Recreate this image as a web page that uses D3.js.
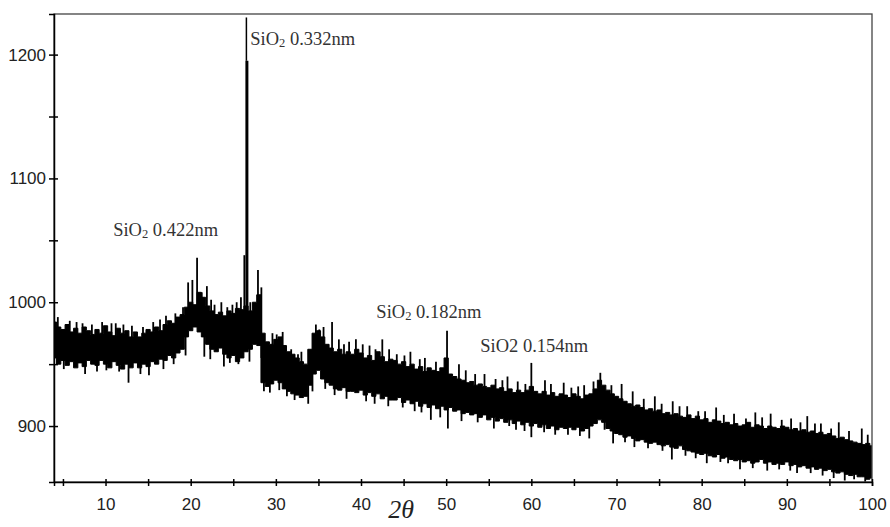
<!DOCTYPE html>
<html>
<head>
    <meta charset="utf-8">
    <title>XRD pattern</title>
    <style>
        body { margin: 0; background: #fff; }
        .tick text { font-family: "Liberation Sans", Arial, sans-serif; font-size: 17px; fill: #222; }
        .note { font-family: "Liberation Serif", "Times New Roman", serif; font-size: 18.5px; fill: #333; }
    </style>
    <script src="https://d3js.org/d3.v7.min.js"></script>
</head>
<body>
<script>
    // 2θ grid, 4 .. 100 every 0.5 degree
    let angles = d3.range(4, 100.25, 0.5);

    // upper edge of the dense noise band, one value per 0.5 degree
    let bandHigh = [
        984, 980, 978, 982, 976, 979, 975, 980, 977, 974,
        978, 975, 981, 976, 973, 979, 975, 977, 972, 976,
        972, 975, 978, 976, 980, 977, 982, 985, 983, 988,
        990, 996, 1000, 998, 1008, 1004, 997, 993, 990, 992,
        989, 993, 991, 995, 994, 997, 993, 1000, 1006, 975,
        968, 966, 970, 972, 965, 960, 958, 955, 952, 950,
        962, 975, 977, 972, 966, 963, 960, 962, 958, 960,
        958, 962, 959, 955, 957, 953, 960, 956, 952, 954,
        953, 950, 952, 948, 950, 946, 948, 944, 947, 945,
        944, 947, 955, 942, 940, 938, 937, 935, 936, 933,
        934, 932, 931, 933, 930, 931, 928, 930, 927, 929,
        927, 929, 932, 928, 926, 928, 925, 927, 924, 926,
        925, 923, 926, 924, 922, 925, 926, 930, 937, 933,
        929, 926, 924, 922, 920, 918, 916, 917, 915, 913,
        914, 912, 913, 910, 911, 909, 910, 908, 907, 909,
        906, 908, 905, 906, 903, 905, 904, 902, 903, 901,
        902, 900, 901, 903, 899, 901, 900, 898, 900, 899,
        898, 900, 899, 897, 898, 896, 897, 895, 896, 894,
        895, 893, 894, 892, 890, 891, 889, 888, 887, 886,
        885, 886, 884
    ];

    // lower edge of the dense noise band
    let bandLow = [
        955, 950, 953, 949, 952, 947, 951, 948, 953, 950,
        949, 953, 950, 947, 952, 949, 946, 950, 947, 951,
        947, 950, 948, 952, 950, 954, 953, 957, 955, 959,
        962, 972, 977, 980, 976, 972, 966, 962, 960, 963,
        958, 955, 957, 952, 955, 960, 962, 966, 965, 935,
        932, 934, 937, 935, 930, 928, 926, 925, 923, 924,
        933, 942, 945, 938, 935, 933, 930, 929, 931, 928,
        928, 927, 929, 925, 927, 924, 926, 922, 924, 921,
        921, 923, 919, 921, 918, 920, 916, 918, 915, 917,
        914, 916, 913, 915, 912, 913, 910, 911, 909, 910,
        907, 909, 905, 907, 904, 906, 903, 905, 902, 904,
        901, 903, 900, 902, 899, 901, 898, 900, 897, 899,
        898, 899, 897, 899, 896, 898, 900, 902, 905, 903,
        898, 896, 894, 893, 891, 892, 890, 888, 889, 887,
        886, 887, 885, 884, 885, 883, 882, 884, 881, 880,
        879, 878, 877, 878, 876, 875, 877, 874, 875, 873,
        872, 873, 871, 872, 870, 871, 873, 870, 871, 869,
        870, 869, 871, 868, 869, 867, 868, 866, 867, 865,
        866, 864, 865, 863, 862, 863, 861, 860, 861, 859,
        859, 857, 858
    ];

    // single counts sticking out above the band: [2θ, counts]
    let spikesUp = [
        [4.4, 988], [5.8, 985], [6.6, 984], [7.3, 983], [8.4, 982], [9.6, 984],
        [10.7, 983], [11.2, 983], [12.1, 982], [13.1, 981], [14.4, 980], [15.6, 984],
        [16.4, 986], [17.1, 989], [18.2, 991], [19.1, 996], [19.7, 1016], [20.2, 1018],
        [20.75, 1036], [21.3, 1008], [21.9, 1013], [22.4, 1002], [22.8, 998], [23.6, 1000],
        [24.3, 996], [24.9, 998], [25.4, 1000], [25.9, 1004], [26.3, 1038], [27.0, 1000],
        [27.9, 1026], [28.3, 1012], [29.6, 975], [30.1, 974], [30.8, 976], [31.8, 962],
        [32.6, 958], [33.0, 960], [34.7, 982], [35.1, 978], [35.6, 980], [36.6, 984],
        [37.4, 970], [38.0, 966], [38.6, 968], [39.4, 970], [40.2, 966], [41.0, 965],
        [41.7, 962], [42.5, 970], [43.3, 962], [44.2, 958], [45.1, 957], [45.8, 960],
        [46.9, 954], [47.5, 955], [48.8, 952], [50.1, 977], [51.5, 950], [52.3, 945],
        [53.4, 942], [54.5, 942], [55.8, 938], [56.6, 937], [57.2, 940], [58.4, 936],
        [59.3, 934], [60.0, 951], [61.6, 937], [62.3, 934], [63.8, 935], [64.7, 931],
        [65.5, 932], [66.2, 933], [67.3, 936], [68.1, 943], [69.4, 933], [70.6, 934],
        [71.9, 928], [73.2, 922], [74.5, 924], [75.3, 918], [76.6, 920], [77.4, 916],
        [78.3, 916], [79.6, 912], [80.4, 912], [81.7, 915], [82.6, 909], [83.8, 910],
        [85.2, 906], [86.3, 911], [87.1, 907], [88.1, 910], [89.4, 905], [90.5, 906],
        [91.6, 903], [92.4, 908], [93.3, 902], [94.0, 902], [95.2, 898], [96.1, 903],
        [97.3, 896], [98.8, 898], [99.5, 893]
    ];

    // single counts dropping below the band
    let spikesDown = [
        [5.1, 946], [7.6, 942], [9.0, 944], [10.1, 945], [11.6, 944], [12.7, 935],
        [14.1, 942], [15.1, 941], [16.8, 946], [18.0, 950], [19.4, 957], [21.6, 956],
        [22.3, 954], [23.9, 948], [24.6, 951], [25.6, 950], [26.9, 952], [28.6, 928],
        [29.3, 927], [30.4, 929], [31.3, 924], [32.2, 921], [33.8, 918], [34.3, 928],
        [35.8, 930], [36.9, 925], [38.3, 922], [40.6, 920], [41.6, 918], [43.2, 916],
        [44.9, 915], [46.3, 912], [47.1, 911], [48.2, 905], [49.3, 907], [50.2, 898],
        [51.8, 904], [53.7, 903], [55.6, 898], [57.4, 900], [58.2, 897], [59.2, 896],
        [60.0, 891], [61.5, 895], [62.8, 893], [64.3, 893], [65.7, 892], [66.8, 890],
        [68.6, 897], [69.6, 886], [71.0, 887], [72.1, 883], [73.7, 882], [75.4, 880],
        [76.5, 873], [78.1, 876], [79.3, 874], [80.6, 870], [82.2, 871], [83.1, 870],
        [84.5, 865], [86.0, 866], [87.7, 864], [89.1, 865], [90.4, 864], [91.2, 862],
        [92.8, 862], [94.2, 860], [95.5, 858], [96.8, 856], [97.9, 857], [99.2, 855]
    ];

    // the strong quartz reflection: [2θ, body top, tip]
    let mainPeak = [26.6, 1195, 1230];

    // peak labels: 2θ and counts of the text baseline start
    let notes = [
        { t: 27.0, v: 1207.8, name: "SiO", sub: "2", rest: " 0.332nm" },
        { t: 10.9, v: 1053.5, name: "SiO", sub: "2", rest: " 0.422nm" },
        { t: 41.8, v: 987.3, name: "SiO", sub: "2", rest: " 0.182nm" },
        { t: 54.0, v: 959.8, name: "SiO2", sub: "", rest: " 0.154nm" }
    ];

    let xTicks = d3.range(5, 101, 5);
    let yTicks = d3.range(900, 1201, 50);

    let width = 890;
    let height = 527;
    let plotL = 54, plotR = 872, plotT = 14, plotB = 482;

    let svg = d3.select("body")
        .append("svg")
        .attr("width", width)
        .attr("height", height);

    let x = d3.scaleLinear().domain([3.95, 100]).range([plotL, plotR]);
    let y = d3.scaleLinear().domain([854.8, 1232.8]).range([plotB, plotT]);

    svg.append("clipPath").attr("id", "plot")
        .append("rect")
        .attr("x", plotL).attr("y", plotT)
        .attr("width", plotR - plotL).attr("height", plotB - plotT);

    let g = svg.append("g").attr("clip-path", "url(#plot)");

    let band = angles.map((t, i) => ({ t: t, hi: bandHigh[i], lo: bandLow[i] }));

    g.append("path")
        .datum(band)
        .attr("d", d3.area()
            .curve(d3.curveStep)
            .x(d => x(d.t))
            .y0(d => y(d.lo))
            .y1(d => y(d.hi)))
        .attr("fill", "#000")
        .attr("stroke", "#000")
        .attr("stroke-width", 1);

    function bandMid(t) {
        let i = Math.round((t - angles[0]) / 0.5);
        i = Math.max(0, Math.min(angles.length - 1, i));
        return (bandHigh[i] + bandLow[i]) / 2;
    }

    g.selectAll(".up")
        .data(spikesUp)
        .enter()
        .append("line")
        .attr("x1", d => x(d[0])).attr("x2", d => x(d[0]))
        .attr("y1", d => y(bandMid(d[0]))).attr("y2", d => y(d[1]))
        .attr("stroke", "#000").attr("stroke-width", 1.8);

    g.selectAll(".down")
        .data(spikesDown)
        .enter()
        .append("line")
        .attr("x1", d => x(d[0])).attr("x2", d => x(d[0]))
        .attr("y1", d => y(bandMid(d[0]))).attr("y2", d => y(d[1]))
        .attr("stroke", "#000").attr("stroke-width", 1.8);

    g.append("line")
        .attr("x1", x(mainPeak[0])).attr("x2", x(mainPeak[0]))
        .attr("y1", y(bandMid(mainPeak[0]))).attr("y2", y(mainPeak[1]))
        .attr("stroke", "#000").attr("stroke-width", 3);
    g.append("line")
        .attr("x1", x(mainPeak[0]) - 0.5).attr("x2", x(mainPeak[0]) - 0.5)
        .attr("y1", y(mainPeak[1])).attr("y2", y(mainPeak[2]))
        .attr("stroke", "#000").attr("stroke-width", 1.5);

    // frame
    svg.append("rect")
        .attr("x", plotL).attr("y", plotT)
        .attr("width", plotR - plotL).attr("height", plotB - plotT)
        .attr("fill", "none")
        .attr("stroke", "#444")
        .attr("stroke-width", 1.3);

    let xAxis = svg.append("g")
        .attr("transform", `translate(0,${plotB})`)
        .call(d3.axisBottom(x)
            .tickValues(xTicks)
            .tickSizeOuter(0)
            .tickSize(4)
            .tickPadding(12)
            .tickFormat(d => d % 10 === 0 ? d : ""));
    xAxis.selectAll(".tick line").attr("y1", -3).attr("stroke-width", 1.5);
    xAxis.select(".domain").attr("stroke-width", 1.5);

    let yAxis = svg.append("g")
        .attr("transform", `translate(${plotL},0)`)
        .call(d3.axisLeft(y)
            .tickValues(yTicks)
            .tickSizeOuter(0)
            .tickSize(5)
            .tickPadding(3)
            .tickFormat(d => d % 100 === 0 ? d : ""));
    yAxis.selectAll(".tick line").attr("x1", 4).attr("stroke-width", 1.5);
    yAxis.select(".domain").attr("stroke-width", 1.5);

    svg.append("text")
        .attr("x", x(44.7))
        .attr("y", 518)
        .attr("text-anchor", "middle")
        .style("font-family", "'Liberation Serif', 'Times New Roman', serif")
        .style("font-style", "italic")
        .style("font-size", "26px")
        .style("fill", "#222")
        .text("2θ");

    notes.forEach(n => {
        let t = svg.append("text")
            .attr("class", "note")
            .attr("x", x(n.t))
            .attr("y", y(n.v));
        t.append("tspan").text(n.name);
        if (n.sub) {
            t.append("tspan").attr("dy", 2).style("font-size", "12.5px").text(n.sub);
            t.append("tspan").attr("dy", -2).text(n.rest);
        } else {
            t.append("tspan").text(n.rest);
        }
    });
</script>
</body>
</html>
